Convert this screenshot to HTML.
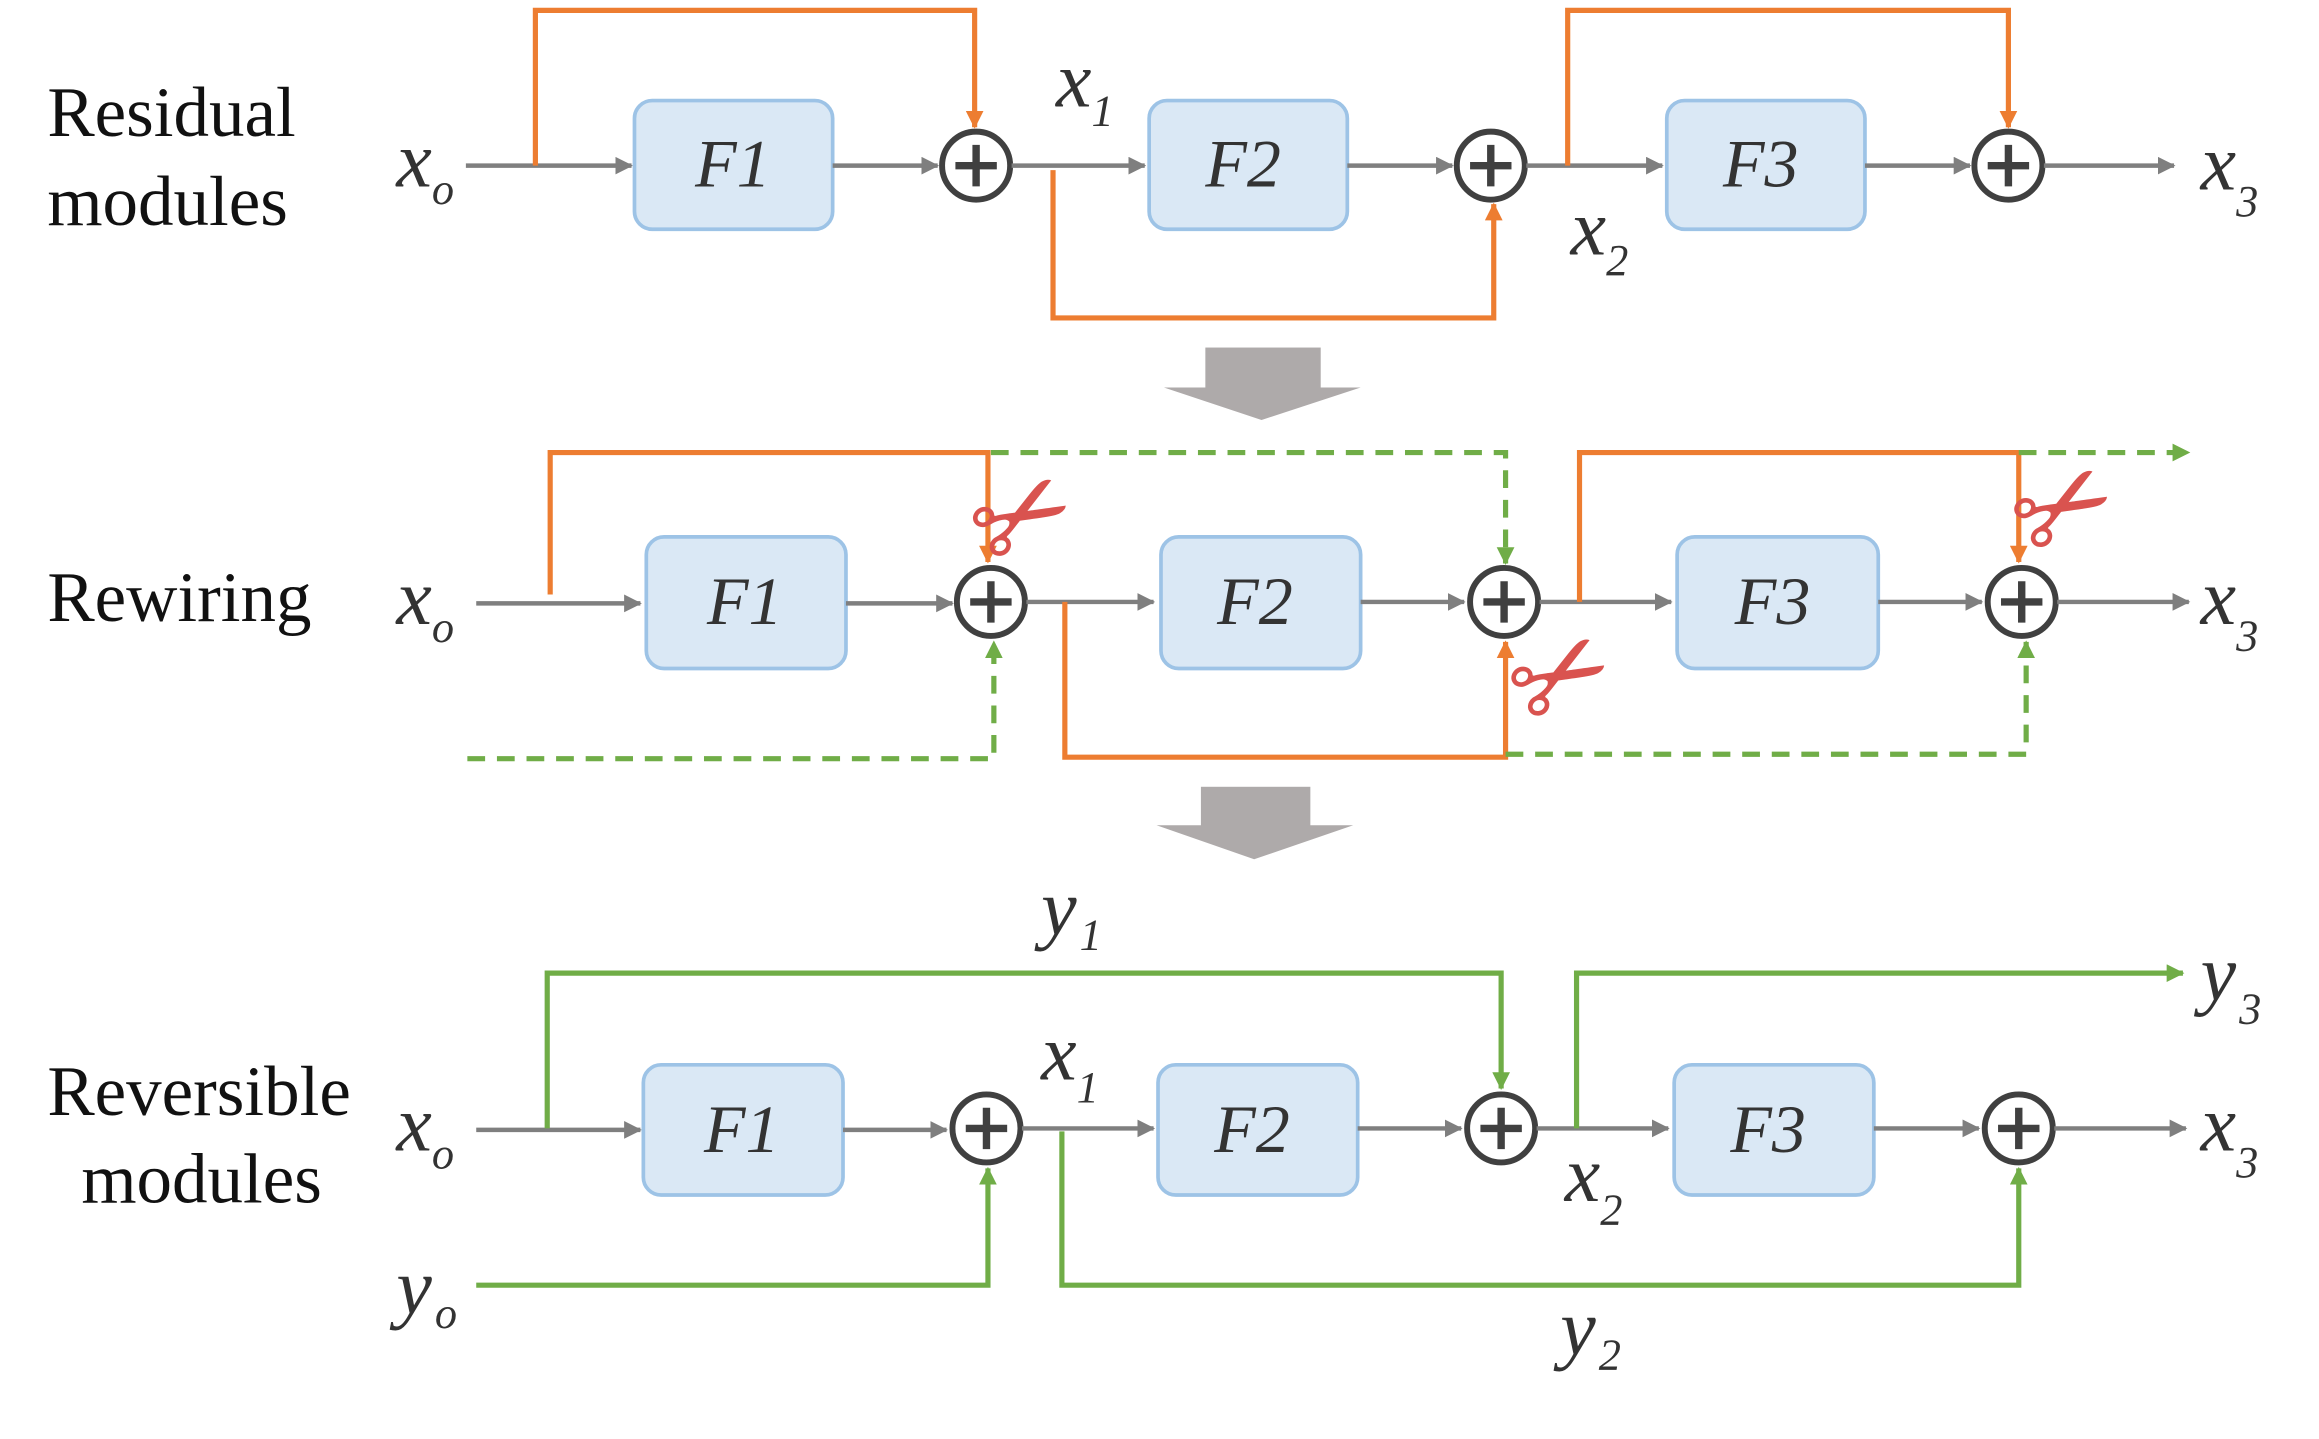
<!DOCTYPE html>
<html><head><meta charset="utf-8"><style>
html,body{margin:0;padding:0;background:#fff;}
svg{display:block}
.lbl{font-family:"Liberation Serif",serif;font-size:48px;fill:#111}
.m{font-family:"Liberation Serif",serif;font-style:italic;font-size:54px;fill:#333}
.s{font-family:"Liberation Serif",serif;font-style:italic;font-size:30px;fill:#333}
.f{font-family:"Liberation Serif",serif;font-style:italic;font-size:46px;fill:#333}
.g{stroke:#7f7f7f;stroke-width:3;fill:none}
.o{stroke:#ed7d31;stroke-width:3.5;fill:none}
.gr{stroke:#70ad47;stroke-width:3.5;fill:none}
.d{stroke-dasharray:12,8}
.box{fill:#dae8f5;stroke:#9dc3e6;stroke-width:2.5}
.c{fill:#fff;stroke:#404040;stroke-width:4}
.sc{font-family:"DejaVu Sans",sans-serif;font-size:80px;font-weight:bold;fill:#d9534f}
</style></head><body>
<svg width="2319" height="1439" viewBox="0 0 1568 973" xmlns="http://www.w3.org/2000/svg">
<defs>
<marker id="ag" markerWidth="12" markerHeight="12" refX="11" refY="6" orient="auto" markerUnits="userSpaceOnUse"><path d="M0,0 L12,6 L0,12 z" fill="#7f7f7f"/></marker>
<marker id="ao" markerWidth="12" markerHeight="12" refX="11" refY="6" orient="auto" markerUnits="userSpaceOnUse"><path d="M0,0 L12,6 L0,12 z" fill="#ed7d31"/></marker>
<marker id="agr" markerWidth="12" markerHeight="12" refX="11" refY="6" orient="auto" markerUnits="userSpaceOnUse"><path d="M0,0 L12,6 L0,12 z" fill="#70ad47"/></marker>
<g id="plus"><circle r="23" class="c"/><path d="M-14,0H14M0,-14V14" stroke="#404040" stroke-width="5"/></g>
</defs>

<!-- Row 1 -->
<text class="lbl" x="32" y="92">Residual</text>
<text class="lbl" x="32" y="152">modules</text>
<text class="m" x="268" y="126">x</text><text class="s" x="292" y="138">o</text>
<path class="g" d="M315,112H427" marker-end="url(#ag)"/>
<rect class="box" x="429" y="68" width="134" height="87" rx="12"/>
<text class="f" x="470" y="126">F1</text>
<path class="g" d="M563,112H634" marker-end="url(#ag)"/>
<use href="#plus" x="660" y="112"/>
<path class="g" d="M684,112H774" marker-end="url(#ag)"/>
<rect class="box" x="777" y="68" width="134" height="87" rx="12"/>
<text class="f" x="815" y="126">F2</text>
<path class="g" d="M911,112H982" marker-end="url(#ag)"/>
<use href="#plus" x="1008" y="112"/>
<path class="g" d="M1032,112H1124" marker-end="url(#ag)"/>
<rect class="box" x="1127" y="68" width="134" height="87" rx="12"/>
<text class="f" x="1165" y="126">F3</text>
<path class="g" d="M1261,112H1332" marker-end="url(#ag)"/>
<use href="#plus" x="1358" y="112"/>
<path class="g" d="M1382,112H1470" marker-end="url(#ag)"/>
<text class="m" x="1488" y="128">x</text><text class="s" x="1512" y="146">3</text>
<path class="o" d="M362,112V7H659V86" marker-end="url(#ao)"/>
<path class="o" d="M712,115V215H1010V138" marker-end="url(#ao)"/>
<path class="o" d="M1060,112V7H1358V86" marker-end="url(#ao)"/>
<text class="m" x="714" y="72">x</text><text class="s" x="738" y="85">1</text>
<text class="m" x="1062" y="172">x</text><text class="s" x="1086" y="186">2</text>
<rect x="815" y="235" width="78" height="28" fill="#aeaaaa"/><path d="M787,262H920L853,284z" fill="#aeaaaa"/>

<!-- Row 2 -->
<text class="lbl" x="32" y="420">Rewiring</text>
<text class="m" x="268" y="422">x</text><text class="s" x="292" y="434">o</text>
<path class="g" d="M322,408H433" marker-end="url(#ag)"/>
<rect class="box" x="437" y="363" width="135" height="89" rx="12"/>
<text class="f" x="478" y="422">F1</text>
<path class="g" d="M572,408H644" marker-end="url(#ag)"/>
<use href="#plus" x="670" y="407"/>
<path class="g" d="M694,407H780" marker-end="url(#ag)"/>
<rect class="box" x="785" y="363" width="135" height="89" rx="12"/>
<text class="f" x="823" y="422">F2</text>
<path class="g" d="M920,407H990" marker-end="url(#ag)"/>
<use href="#plus" x="1017" y="407"/>
<path class="g" d="M1041,407H1130" marker-end="url(#ag)"/>
<rect class="box" x="1134" y="363" width="136" height="89" rx="12"/>
<text class="f" x="1173" y="422">F3</text>
<path class="g" d="M1270,407H1340" marker-end="url(#ag)"/>
<use href="#plus" x="1367" y="407"/>
<path class="g" d="M1391,407H1480" marker-end="url(#ag)"/>
<text class="m" x="1488" y="422">x</text><text class="s" x="1512" y="440">3</text>
<path class="o" d="M372,402V306H668V380" marker-end="url(#ao)"/>
<path class="o" d="M720,407V512H1018V434" marker-end="url(#ao)"/>
<path class="o" d="M1068,407V306H1365V380" marker-end="url(#ao)"/>
<path class="gr d" d="M670,306H1018V381" marker-end="url(#agr)"/>
<path class="gr d" d="M1365,306H1480" marker-end="url(#agr)"/>
<path class="gr d" d="M316,513H672V434" marker-end="url(#agr)"/>
<path class="gr d" d="M1018,510H1370V434" marker-end="url(#agr)"/>
<text class="sc" transform="translate(676,390) rotate(-30)">✂</text>
<text class="sc" transform="translate(1040,498) rotate(-30)">✂</text>
<text class="sc" transform="translate(1380,384) rotate(-30)">✂</text>
<rect x="812" y="532" width="74" height="27" fill="#aeaaaa"/><path d="M782,558H915L848,581z" fill="#aeaaaa"/>

<!-- Row 3 -->
<text class="lbl" x="32" y="754">Reversible</text>
<text class="lbl" x="55" y="813">modules</text>
<text class="m" x="268" y="778">x</text><text class="s" x="292" y="790">o</text>
<path class="g" d="M322,764H433" marker-end="url(#ag)"/>
<rect class="box" x="435" y="720" width="135" height="88" rx="12"/>
<text class="f" x="476" y="779">F1</text>
<path class="g" d="M570,764H640" marker-end="url(#ag)"/>
<use href="#plus" x="667" y="763"/>
<path class="g" d="M691,763H780" marker-end="url(#ag)"/>
<rect class="box" x="783" y="720" width="135" height="88" rx="12"/>
<text class="f" x="821" y="779">F2</text>
<path class="g" d="M918,763H988" marker-end="url(#ag)"/>
<use href="#plus" x="1015" y="763"/>
<path class="g" d="M1039,763H1128" marker-end="url(#ag)"/>
<rect class="box" x="1132" y="720" width="135" height="88" rx="12"/>
<text class="f" x="1170" y="779">F3</text>
<path class="g" d="M1267,763H1338" marker-end="url(#ag)"/>
<use href="#plus" x="1365" y="763"/>
<path class="g" d="M1389,763H1478" marker-end="url(#ag)"/>
<text class="m" x="1488" y="778">x</text><text class="s" x="1512" y="796">3</text>
<path class="gr" d="M370,763V658H1015V736" marker-end="url(#agr)"/>
<path class="gr" d="M1066,763V658H1476" marker-end="url(#agr)"/>
<path class="gr" d="M322,869H668V790" marker-end="url(#agr)"/>
<path class="gr" d="M718,765V869H1365V790" marker-end="url(#agr)"/>
<text class="m" x="704" y="632">y</text><text class="s" x="730" y="642">1</text>
<text class="m" x="1488" y="676">y</text><text class="s" x="1514" y="692">3</text>
<text class="m" x="268" y="888">y</text><text class="s" x="294" y="898">o</text>
<text class="m" x="1055" y="916">y</text><text class="s" x="1081" y="926">2</text>
<text class="m" x="704" y="730">x</text><text class="s" x="728" y="745">1</text>
<text class="m" x="1058" y="812">x</text><text class="s" x="1082" y="828">2</text>
</svg>
</body></html>
